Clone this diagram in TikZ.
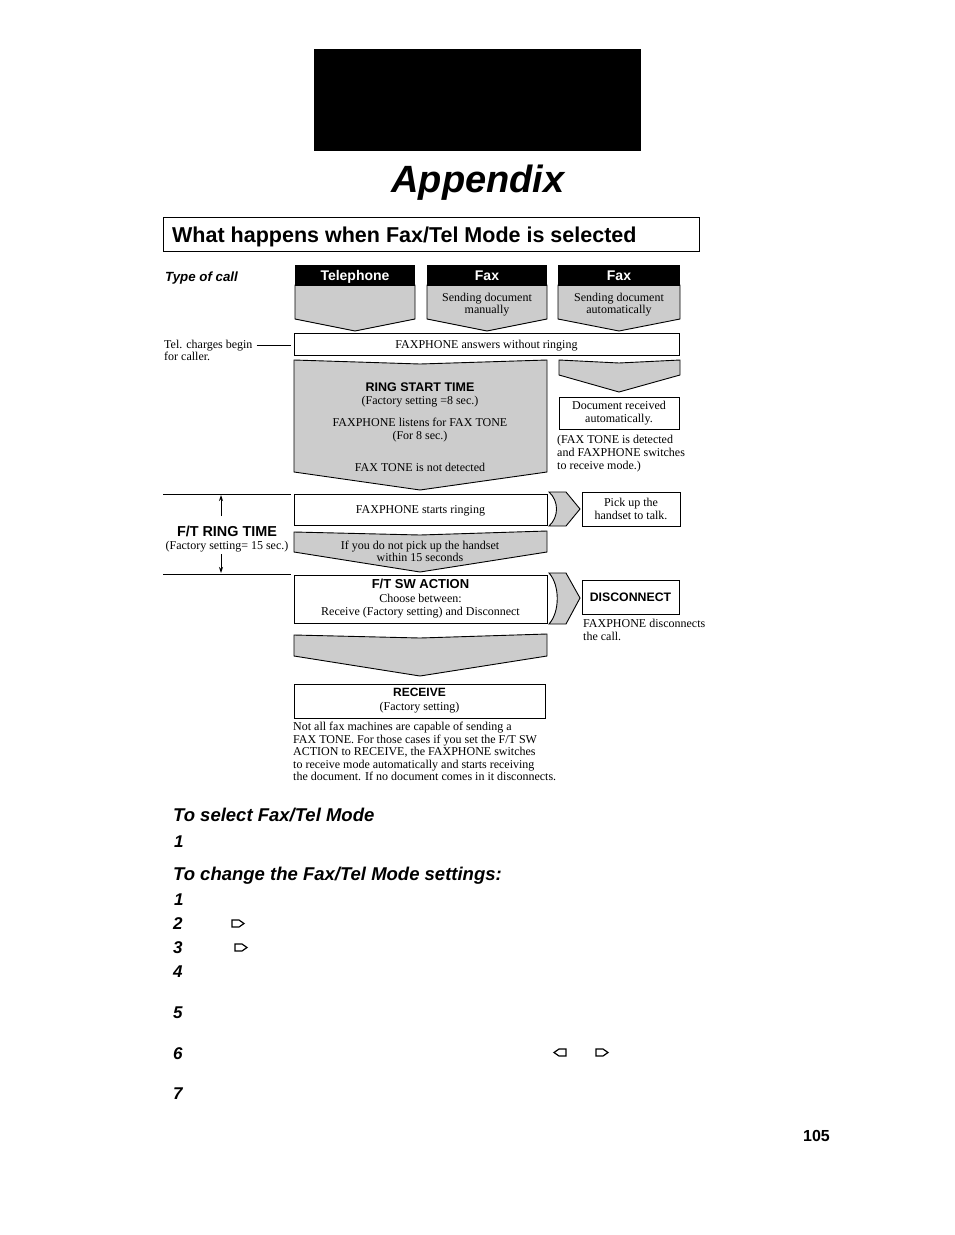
\documentclass[tikz,border=0pt]{standalone}
\usepackage{fontspec}
\setmainfont{Liberation Serif}
\newfontfamily\hvf{Liberation Sans}
\usetikzlibrary{arrows.meta}
\definecolor{chevgray}{gray}{0.8}
\newcommand\fsz[2]{\fontsize{#1}{#2}\selectfont}
\begin{document}
\begin{tikzpicture}[x=1pt,y=-1pt,
  boxw/.style={draw, line width=0.9pt, fill=white, inner sep=0pt, align=center, font=\fsz{12}{13}},
  one/.style={text height=8.5pt, text depth=0pt},
  chev/.style={draw, line width=0.9pt, fill=chevgray, line join=miter},
  hdr/.style={fill=black, inner sep=0pt, text=white, text height=10pt, text depth=0pt, font=\hvf\bfseries\fsz{14}{15}},
  txt/.style={inner sep=0pt, anchor=base, font=\fsz{12}{13}},
  txtl/.style={inner sep=0pt, anchor=base west, font=\fsz{12}{13}},
  lbl/.style={inner sep=0pt, anchor=base, font=\hvf\bfseries\fsz{12.5}{13}},
  head/.style={inner sep=0pt, anchor=base west, font=\hvf\bfseries\itshape\fsz{18.5}{20}},
  num/.style={inner sep=0pt, anchor=base west, font=\hvf\bfseries\itshape\fsz{17}{20}},
  arr/.style={line width=0.9pt, -{Stealth[length=6pt,width=4pt]}},
  icon/.style={line width=1.2pt, line join=miter},
  thin/.style={line width=0.9pt}
]
\useasboundingbox (0,0) rectangle (954,1235);

% header block
\node[fill=black, minimum width=327, minimum height=102, inner sep=0pt, anchor=north west] (blk) at (314,49) {};
\node[inner sep=0pt, anchor=base, font=\hvf\bfseries\itshape\fsz{38}{40}] (app) at (478,192) {Appendix};
\node[draw, line width=1pt, minimum width=536, minimum height=34, inner sep=0pt, anchor=north west] (ttlbox) at (163,217) {};
\node[inner sep=0pt, anchor=base west, font=\hvf\bfseries\fsz{21.5}{23}] (ttl) at (172,242) {What happens when Fax/Tel Mode is selected};

% type of call
\node[inner sep=0pt, anchor=base west, font=\hvf\bfseries\itshape\fsz{13.3}{14}] (toc) at (165,281) {Type of call};

% top chevrons
\draw[chev] (295,285) -- (295,319) -- (355,331) -- (415,319) -- (415,285) -- cycle;
\draw[chev] (427,285) -- (427,319) -- (487,331) -- (547,319) -- (547,285) -- cycle;
\draw[chev] (558,285) -- (558,319) -- (619,331) -- (680,319) -- (680,285) -- cycle;
\node[hdr, minimum width=120, minimum height=21] (h1) at (355,275.5) {Telephone};
\node[hdr, minimum width=120, minimum height=21] (h2) at (487,275.5) {Fax};
\node[hdr, minimum width=122, minimum height=21] (h3) at (619,275.5) {Fax};
\node[txt] (m1) at (487,301) {Sending document};
\node[txt] (m2) at (487,313) {manually};
\node[txt] (a1) at (619,301) {Sending document};
\node[txt] (a2) at (619,313) {automatically};

% answers without ringing
\node[boxw, one, minimum width=385, minimum height=22] (ans) at (486.5,344) {FAXPHONE answers without ringing};
\node[txtl] (tel1) at (164,348) {Tel. charges begin};
\node[txtl] (tel2) at (164,360) {for caller.};
\draw[thin] ([xshift=4pt]tel1.east) -- ([xshift=-3pt]tel1.east -| ans.west);

% ring start time chevron
\draw[chev] (294,360) -- (420,364) -- (547,360) -- (547,472) -- (420,490) -- (294,472) -- cycle;
\node[lbl] (rst) at (420,391) {RING START TIME};
\node[txt] (rst2) at (420,404) {(Factory setting =8 sec.)};
\node[txt] (rst3) at (420,426) {FAXPHONE listens for FAX TONE};
\node[txt] (rst4) at (420,439) {(For 8 sec.)};
\node[txt] (rst5) at (420,471) {FAX TONE is not detected};

% right column
\draw[chev] (559,360) -- (619,363) -- (680,360) -- (680,375) -- (619,392) -- (559,375) -- cycle;
\node[boxw, minimum width=120, minimum height=32] (doc) at (619,413) {Document received\\automatically.};
\node[txtl] (d1) at (557,443) {(FAX TONE is detected};
\node[txtl] (d2) at (557,456) {and FAXPHONE switches};
\node[txtl] (d3) at (557,469) {to receive mode.)};

% F/T ring time annotation
\coordinate (lt1) at (163,494);
\coordinate (lt2) at (291,494);
\coordinate (lb1) at (163,574);
\coordinate (lb2) at (291,574);
\draw[thin] (lt1) -- (lt2);
\draw[thin] (lb1) -- (lb2);
\node[inner sep=0pt, anchor=base, font=\hvf\bfseries\fsz{14.4}{15}] (ftr) at (227,536) {F/T RING TIME};
\node[txt] (ftr2) at (227,549) {(Factory setting= 15 sec.)};
\coordinate (ftTop) at (221,495);
\coordinate (ftTopS) at (221,516);
\coordinate (ftBot) at (221,573);
\coordinate (ftBotS) at (221,554);
\draw[arr] (ftTopS) -- (ftTop);
\draw[arr] (ftBotS) -- (ftBot);

% starts ringing
\node[boxw, one, minimum width=253, minimum height=31] (ring) at (420.5,509.5) {FAXPHONE starts ringing};
\draw[chev] (549,492) -- (566,492) -- (580,509) -- (566,526) -- (549,526) .. controls (559,517) and (559,501) .. (549,492) -- cycle;
\node[boxw, minimum width=98, minimum height=34] (pick) at (631,509) {Pick up the\\handset to talk.};

% if you do not pick up
\draw[chev] (294,532) -- (420,535) -- (547,531) -- (547,552) -- (420,572) -- (294,552) -- cycle;
\node[txt] (if1) at (420,549) {If you do not pick up the handset};
\node[txt] (if2) at (420,561) {within 15 seconds};

% F/T SW action
\node[boxw, minimum width=253, minimum height=48] (sw) at (420.5,599) {{\hvf\bfseries\fsz{13}{13}F/T SW ACTION}\\[1pt]Choose between:\\Receive (Factory setting) and Disconnect};
\draw[chev] (549,573) -- (566,573) -- (580,598) -- (566,624) -- (549,624) .. controls (560,612) and (560,585) .. (549,573) -- cycle;
\node[boxw, text height=9pt, text depth=0pt, minimum width=97, minimum height=34, font=\hvf\bfseries\fsz{12.3}{13}] (dis) at (630.5,597) {DISCONNECT};
\node[txtl] (dc1) at (583,627) {FAXPHONE disconnects};
\node[txtl] (dc2) at (583,640) {the call.};

% bottom chevron and receive
\draw[chev] (294,635) -- (420,638) -- (547,634) -- (547,656) -- (420,676) -- (294,656) -- cycle;
\node[boxw, minimum width=251, minimum height=34] (rcv) at (419.5,701) {{\hvf\bfseries\fsz{12}{13}RECEIVE}\\[1pt](Factory setting)};
\node[txtl] (n1) at (293,730) {Not all fax machines are capable of sending a};
\node[txtl] (n2) at (293,743) {FAX TONE. For those cases if you set the F/T SW};
\node[txtl] (n3) at (293,755) {ACTION to RECEIVE, the FAXPHONE switches};
\node[txtl] (n4) at (293,768) {to receive mode automatically and starts receiving};
\node[txtl] (n5) at (293,780) {the document. If no document comes in it disconnects.};

% instructions
\node[head] (sel) at (173,821) {To select Fax/Tel Mode};
\node[num] (s1) at (174,847) {1};
\node[head] (chg) at (173,880) {To change the Fax/Tel Mode settings:};
\node[num] (c1) at (174,905) {1};
\node[num] (c2) at (173,929) {2};
\node[num] (c3) at (173,953) {3};
\node[num] (c4) at (173,977) {4};
\node[num] (c5) at (173,1018) {5};
\node[num] (c6) at (173,1059) {6};
\node[num] (c7) at (173,1099) {7};
% key icons
\draw[icon] (232,920) -- ++(7,0) -- ++(5,3.5) -- ++(-5,3.5) -- ++(-7,0) -- cycle;
\draw[icon] (235,944) -- ++(7,0) -- ++(5,3.5) -- ++(-5,3.5) -- ++(-7,0) -- cycle;
\draw[icon] (566,1049) -- ++(-7,0) -- ++(-5,3.5) -- ++(5,3.5) -- ++(7,0) -- cycle;
\draw[icon] (596,1049) -- ++(7,0) -- ++(5,3.5) -- ++(-5,3.5) -- ++(-7,0) -- cycle;

\node[inner sep=0pt, anchor=base east, font=\hvf\bfseries\fsz{16}{18}] (pg) at (830,1141) {105};
\end{tikzpicture}
\end{document}
